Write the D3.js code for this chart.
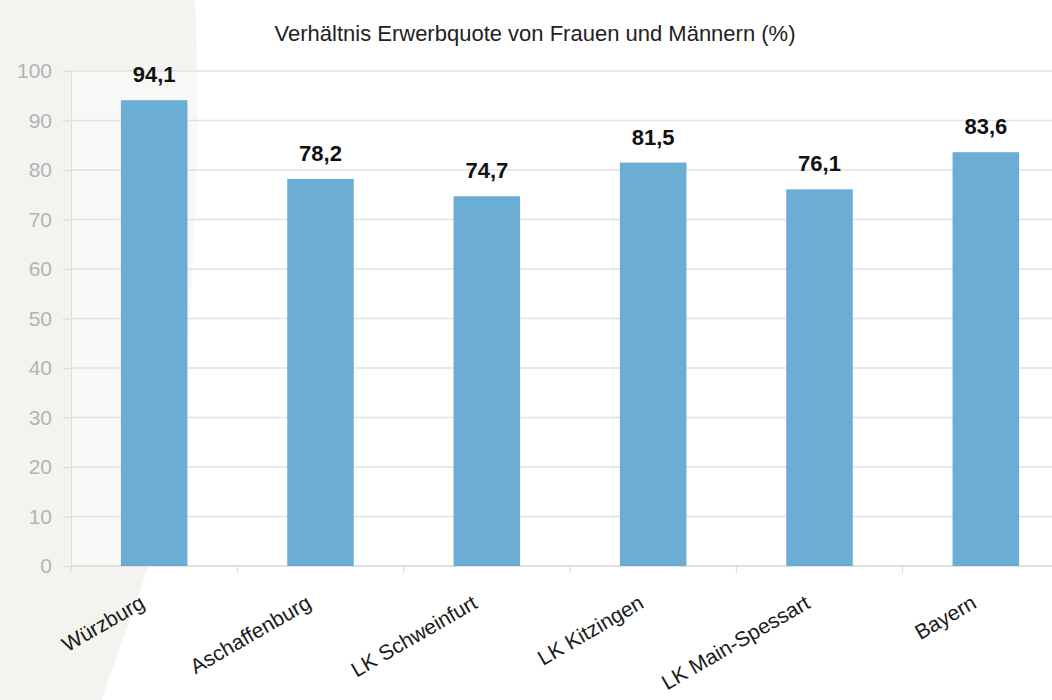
<!DOCTYPE html>
<html>
<head>
<meta charset="utf-8">
<script src="https://cdn.jsdelivr.net/npm/d3@7"></script>
<style>
  html, body { margin: 0; padding: 0; background: #fff; }
  svg { display: block; }
</style>
</head>
<body>
<svg id="chart"></svg>
<script>
const categories = ['Würzburg', 'Aschaffenburg', 'LK Schweinfurt', 'LK Kitzingen', 'LK Main-Spessart', 'Bayern'];
const values = [94.1, 78.2, 74.7, 81.5, 76.1, 83.6];
const yTicks = [0, 10, 20, 30, 40, 50, 60, 70, 80, 90, 100];
const title = 'Verhältnis Erwerbquote von Frauen und Männern (%)';

const W = 1052, H = 700;
const margin = { top: 71, left: 71, bottom: 134 };
const plotBottom = H - margin.bottom;
const plotRight = 1069; // band range runs slightly past the visible edge

const svg = d3.select('#chart')
  .attr('width', W)
  .attr('height', H)
  .style('font-family', '"Liberation Sans", Arial, sans-serif');

// grey page shape on the left
svg.append('path')
  .attr('d', 'M0,0 L195,0 C202,160 195,400 150,560 C130,625 112,665 102,700 L0,700 Z')
  .attr('fill', '#f3f3f0');

const x = d3.scaleBand()
  .domain(categories)
  .range([margin.left, plotRight])
  .paddingInner(0.6)
  .paddingOuter(0.3);

const y = d3.scaleLinear()
  .domain([0, 100])
  .range([plotBottom, margin.top]);

// plot background (faint white wash)
svg.append('rect')
  .attr('x', margin.left)
  .attr('y', margin.top)
  .attr('width', W - margin.left)
  .attr('height', plotBottom - margin.top)
  .attr('fill', '#fff')
  .attr('opacity', 0.45);

// y axis
const yAxis = svg.append('g')
  .attr('transform', `translate(${margin.left},0)`)
  .call(d3.axisLeft(y).tickValues(yTicks).tickSize(8).tickPadding(11));
yAxis.select('.domain').attr('stroke', '#dcdcdc').attr('stroke-width', 1);
yAxis.selectAll('.tick line').attr('stroke', '#dedede').attr('stroke-width', 1.5);
yAxis.selectAll('.tick text')
  .attr('fill', '#b4b4b4')
  .style('font-size', '21px')
  .style('font-family', '"Liberation Sans", Arial, sans-serif');

// gridlines
svg.append('g')
  .selectAll('line')
  .data(yTicks.filter(d => d > 0))
  .enter().append('line')
  .attr('x1', margin.left)
  .attr('x2', W)
  .attr('y1', d => y(d))
  .attr('y2', d => y(d))
  .attr('stroke', '#e2e2e2')
  .attr('stroke-width', 1.5);

// x axis with ticks at band edges
const step = x.step();
const bounds = d3.range(categories.length + 1).map(i => margin.left + i * step);
svg.append('line')
  .attr('x1', margin.left).attr('x2', W)
  .attr('y1', plotBottom).attr('y2', plotBottom)
  .attr('stroke', '#d6d6d6').attr('stroke-width', 1.5);
svg.append('g')
  .selectAll('line')
  .data(bounds)
  .enter().append('line')
  .attr('x1', d => d).attr('x2', d => d)
  .attr('y1', plotBottom).attr('y2', plotBottom + 7)
  .attr('stroke', '#d6d6d6').attr('stroke-width', 1);

// bars
svg.selectAll('.bar')
  .data(values)
  .enter().append('rect')
  .attr('class', 'bar')
  .attr('x', (d, i) => x(categories[i]))
  .attr('y', d => y(d))
  .attr('width', x.bandwidth())
  .attr('height', d => plotBottom - y(d))
  .attr('fill', '#6badd4');

// value labels
svg.selectAll('.val')
  .data(values)
  .enter().append('text')
  .attr('class', 'val')
  .attr('x', (d, i) => x(categories[i]) + x.bandwidth() / 2)
  .attr('y', d => y(d) - 18)
  .attr('text-anchor', 'middle')
  .attr('fill', '#111')
  .style('font-size', '22px')
  .style('font-weight', 'bold')
  .text(d => d.toFixed(1).replace('.', ','));

// category labels, rotated
svg.selectAll('.cat')
  .data(categories)
  .enter().append('text')
  .attr('class', 'cat')
  .attr('transform', d => `translate(${x(d) + x.bandwidth() / 2 - 8},${plotBottom + 41}) rotate(-30)`)
  .attr('text-anchor', 'end')
  .attr('fill', '#1a1a1a')
  .style('font-size', '21px')
  .text(d => d);

// title
svg.append('text')
  .attr('x', 535)
  .attr('y', 41)
  .attr('text-anchor', 'middle')
  .attr('fill', '#222')
  .style('font-size', '22px')
  .text(title);
</script>
</body>
</html>
